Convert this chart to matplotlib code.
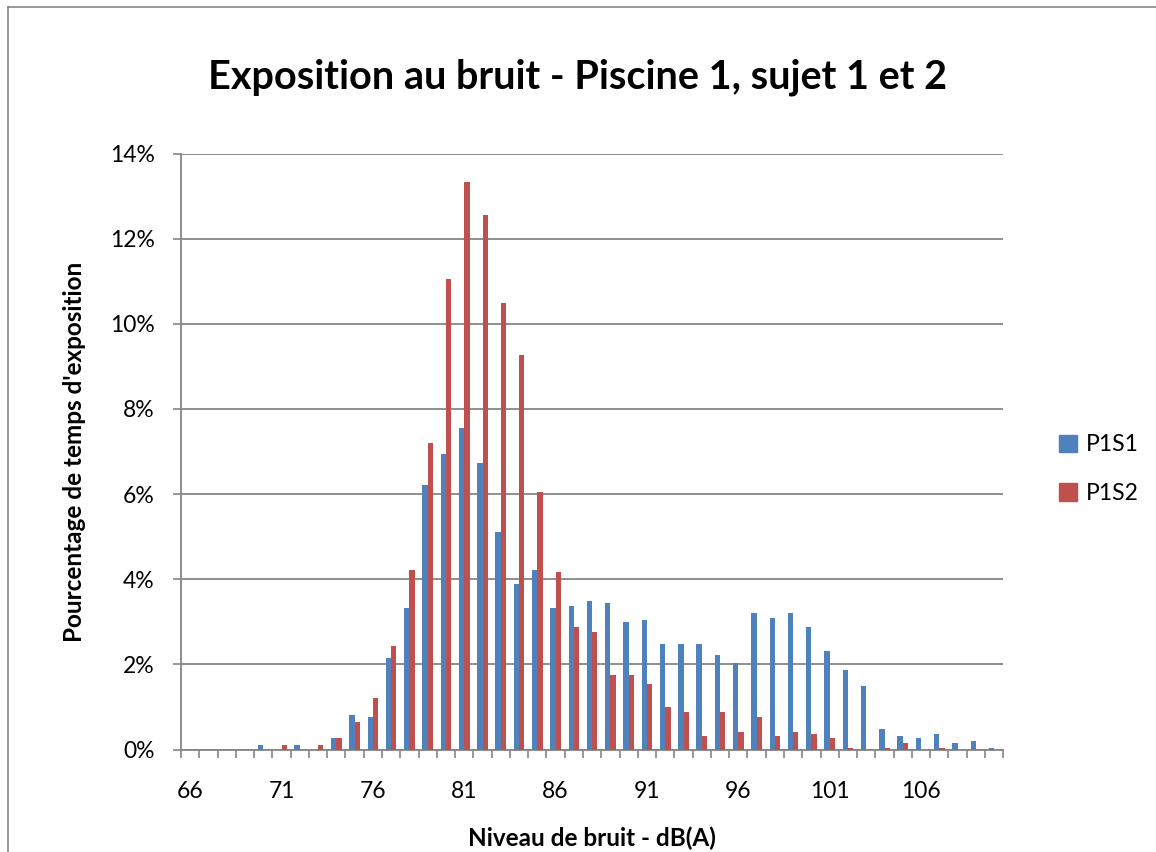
import numpy as np
import matplotlib
matplotlib.use("Agg")
import matplotlib.pyplot as plt
from matplotlib.lines import Line2D
from matplotlib.patches import Patch

plt.rcParams['font.family'] = ['Lato', 'DejaVu Sans']

# noise level categories, dB(A)
levels = list(range(66, 111))

# percentage of exposure time
p1s1 = [0, 0, 0, 0, 0.10, 0, 0.10, 0, 0.26, 0.82,
        0.76, 2.16, 3.32, 6.22, 6.95, 7.55, 6.72, 5.11, 3.88, 4.21,
        3.32, 3.38, 3.49, 3.44, 2.99, 3.04, 2.48, 2.48, 2.48, 2.21,
        2.04, 3.21, 3.10, 3.21, 2.87, 2.32, 1.87, 1.49, 0.49, 0.31,
        0.26, 0.37, 0.15, 0.20, 0.04]
p1s2 = [0, 0, 0, 0, 0, 0.10, 0, 0.10, 0.26, 0.65,
        1.21, 2.43, 4.21, 7.21, 11.05, 13.33, 12.55, 10.49, 9.27, 6.05,
        4.16, 2.87, 2.76, 1.76, 1.76, 1.53, 0.99, 0.87, 0.31, 0.87,
        0.42, 0.76, 0.31, 0.42, 0.37, 0.26, 0.04, 0, 0.03, 0.15,
        0, 0.03, 0, 0, 0]

series_names = ['P1S1', 'P1S2']
colors = ['#4F81BD', '#C0504D']
grid_col = '#868686'

W, H = 1156, 852
fig = plt.figure(figsize=(W / 100, H / 100), dpi=100)
ax = fig.add_axes([181 / W, 1 - 749.5 / H, (1003.3 - 181) / W, (749.5 - 153.5) / H])

x = np.arange(len(levels))
bw = 0.29
ax.bar(x - bw / 2, p1s1, bw, color=colors[0], zorder=3)
ax.bar(x + bw / 2, p1s2, bw, color=colors[1], zorder=3)

ax.set_xlim(-0.5, len(levels) - 0.5)
ax.set_ylim(0, 14)

# y axis
ax.set_yticks(np.arange(0, 15, 2))
ax.set_yticklabels([f'{v}%' for v in range(0, 15, 2)])
ax.yaxis.grid(True, color=grid_col, linewidth=1.3, zorder=0)
ax.tick_params(axis='y', length=6, width=1.2, color=grid_col, pad=13, labelsize=16.5)

# x axis: labels every 5, tick marks at category borders
ax.set_xticks(x[::5])
ax.set_xticklabels([str(levels[i]) for i in x[::5]])
ax.set_xticks(np.arange(-0.5, len(levels), 1), minor=True)
ax.tick_params(axis='x', which='major', length=0, pad=23, labelsize=16.5)
ax.tick_params(axis='x', which='minor', length=6, width=1.2, color=grid_col)

for s in ['top', 'right']:
    ax.spines[s].set_visible(False)
for s in ['left', 'bottom']:
    ax.spines[s].set_color(grid_col)
    ax.spines[s].set_linewidth(1.3)

fig.text(578 / W, 1 - 77 / H, 'Exposition au bruit - Piscine 1, sujet 1 et 2',
         ha='center', va='center', fontsize=28.5, fontweight='bold')
fig.text(592 / W, 1 - 838 / H, 'Niveau de bruit - dB(A)',
         ha='center', va='center', fontsize=17.5, fontweight='bold')
fig.text(75 / W, 1 - 452 / H, "Pourcentage de temps d'exposition",
         ha='center', va='center', rotation=90, fontsize=17.5, fontweight='bold')

handles = [Patch(color=c) for c in colors]
fig.legend(handles, series_names, loc='center left', bbox_to_anchor=(1038 / W, 1 - 469 / H),
           frameon=False, fontsize=16.5, handlelength=0.8, handleheight=0.8,
           handletextpad=0.4, labelspacing=1.2)

# outer chart border
fig.add_artist(Line2D([8 / W, 8 / W], [0, 1 - 7 / H], color='#888888', linewidth=1.2))
fig.add_artist(Line2D([8 / W, 1], [1 - 7 / H, 1 - 7 / H], color='#888888', linewidth=1.2))

fig.savefig('out.png', dpi=100)
